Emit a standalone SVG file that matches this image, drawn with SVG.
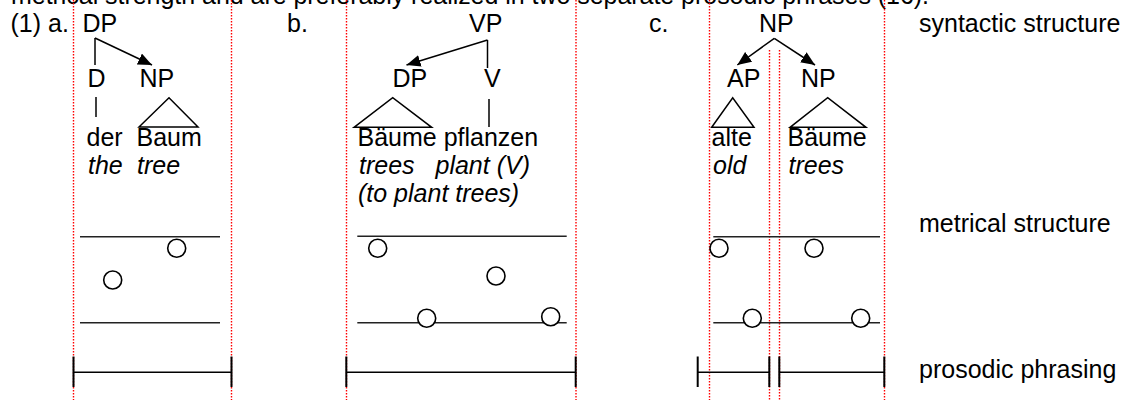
<svg xmlns="http://www.w3.org/2000/svg" width="1123" height="400" viewBox="0 0 1123 400">
<style>
text{font-family:"Liberation Sans",Arial,sans-serif;font-size:25px;fill:#000}
.it{font-style:italic}
.red{stroke:#f00;stroke-width:1.4;stroke-dasharray:1.5 1.5;fill:none}
.ln{stroke:#000;stroke-width:1.5;fill:none}
.ml{stroke:#222;stroke-width:1.5;fill:none}
.ph{stroke:#000;stroke-width:1.6;fill:none}
.bar{stroke:#000;stroke-width:2;fill:none}
.ci{stroke:#000;stroke-width:1.6;fill:#fff}
</style>
<defs>
<marker id="ah" viewBox="0 0 14 12" refX="14" refY="6" markerWidth="14" markerHeight="12" orient="auto" markerUnits="userSpaceOnUse"><path d="M0,0 L14,6 L0,12 z" fill="#000"/></marker>
</defs>
<rect width="1123" height="400" fill="#fff"/>
<text x="11" y="4" textLength="918">metrical strength and are preferably realized in two separate prosodic phrases (16).</text>
<g id="guides">
<line class="red" x1="73.5" y1="0" x2="73.5" y2="400"/>
<line class="red" x1="231.5" y1="0" x2="231.5" y2="400"/>
<line class="red" x1="346.5" y1="0" x2="346.5" y2="400"/>
<line class="red" x1="576" y1="0" x2="576" y2="400"/>
<line class="red" x1="709.5" y1="0" x2="709.5" y2="400"/>
<line class="red" x1="769.5" y1="50" x2="769.5" y2="400"/>
<line class="red" x1="779.5" y1="50" x2="779.5" y2="400"/>
<line class="red" x1="884.5" y1="0" x2="884.5" y2="400"/>
</g>
<g id="labels">
<text x="10.5" y="31.5">(1) a.</text>
<text x="287" y="31.5">b.</text>
<text x="649" y="31.5">c.</text>
<text x="919" y="31.5">syntactic structure</text>
<text x="919" y="232">metrical structure</text>
<text x="919" y="378">prosodic phrasing</text>
</g>
<g id="tree-a">
<g id="a-DP"><text x="82.5" y="31.5">DP</text></g>
<g id="a-D"><text x="87.5" y="87">D</text></g>
<g id="a-NP"><text x="139.5" y="87">NP</text></g>
<g id="a-der"><text x="86.5" y="146">der</text><text class="it" x="88" y="174">the</text></g>
<g id="a-Baum"><text x="136.5" y="146">Baum</text><text class="it" x="137" y="174">tree</text></g>
</g>
<g id="tree-b">
<g id="b-VP"><text x="469" y="31.5">VP</text></g>
<g id="b-DP"><text x="392.5" y="87">DP</text></g>
<g id="b-V"><text x="484" y="87">V</text></g>
<g id="b-words"><text x="357.5" y="146">Bäume pflanzen</text><text class="it" x="359" y="174">trees</text><text class="it" x="435.5" y="174">plant (V)</text><text class="it" x="358" y="202">(to plant trees)</text></g>
</g>
<g id="tree-c">
<g id="c-NP"><text x="759" y="31.5">NP</text></g>
<g id="c-AP"><text x="727" y="87">AP</text></g>
<g id="c-NP2"><text x="801" y="87">NP</text></g>
<g id="c-alte"><text x="711.5" y="146">alte</text><text class="it" x="713" y="174">old</text></g>
<g id="c-Baeume"><text x="787.5" y="146">Bäume</text><text class="it" x="788.5" y="174">trees</text></g>
</g>
<g id="connectors">
<line class="ln" x1="95" y1="38" x2="95" y2="65"/>
<line class="ln" x1="95" y1="38" x2="152" y2="65" marker-end="url(#ah)"/>
<line class="ln" x1="96" y1="97" x2="96" y2="117"/>
<path class="ln" d="M139,127 L169,97.7 L198,127 Z"/>
<line class="ln" x1="487.5" y1="40" x2="487.5" y2="68"/>
<line class="ln" x1="487.5" y1="40" x2="406.5" y2="65" marker-end="url(#ah)"/>
<line class="ln" x1="489" y1="99" x2="489" y2="127"/>
<path class="ln" d="M354,127.3 L392.7,97.7 L431.7,127.3 Z"/>
<line class="ln" x1="774.3" y1="38.3" x2="737.3" y2="65" marker-end="url(#ah)"/>
<line class="ln" x1="774.3" y1="38.3" x2="815" y2="65" marker-end="url(#ah)"/>
<path class="ln" d="M711.7,127.3 L732.7,97.7 L754,127.3 Z"/>
<path class="ln" d="M790,127.3 L827.7,97.7 L866,127.3 Z"/>
</g>
<g id="metrical">
<line class="ml" x1="80" y1="236.7" x2="220" y2="236.7"/>
<line class="ml" x1="80" y1="322.7" x2="220" y2="322.7"/>
<circle class="ci" cx="176.7" cy="248.3" r="9"/>
<circle class="ci" cx="112.7" cy="280" r="9"/>
<line class="ml" x1="357.3" y1="236.3" x2="566.7" y2="236.3"/>
<line class="ml" x1="357.3" y1="322.7" x2="566.7" y2="322.7"/>
<circle class="ci" cx="377.7" cy="248.3" r="9"/>
<circle class="ci" cx="496" cy="276" r="9"/>
<circle class="ci" cx="426.7" cy="318.3" r="9"/>
<circle class="ci" cx="550.7" cy="316.7" r="9"/>
<line class="ml" x1="713.3" y1="236.7" x2="880" y2="236.7"/>
<line class="ml" x1="713.3" y1="322.7" x2="880" y2="322.7"/>
<circle class="ci" cx="719" cy="248.3" r="9"/>
<circle class="ci" cx="814" cy="248.3" r="9"/>
<circle class="ci" cx="752.3" cy="318.3" r="9"/>
<circle class="ci" cx="860.7" cy="318.3" r="9"/>
</g>
<g id="phrasing">
<line class="ph" x1="73.5" y1="372.3" x2="231.5" y2="372.3"/>
<line class="bar" x1="73.5" y1="356.5" x2="73.5" y2="387"/>
<line class="bar" x1="231.5" y1="356.5" x2="231.5" y2="387"/>
<line class="ph" x1="346.3" y1="372.3" x2="575.7" y2="372.3"/>
<line class="bar" x1="346.3" y1="356.5" x2="346.3" y2="387"/>
<line class="bar" x1="575.7" y1="356.5" x2="575.7" y2="387"/>
<line class="ph" x1="697.7" y1="372.3" x2="769.3" y2="372.3"/>
<line class="bar" x1="697.7" y1="356.5" x2="697.7" y2="387"/>
<line class="bar" x1="769.3" y1="356.5" x2="769.3" y2="387"/>
<line class="ph" x1="779.3" y1="372.3" x2="884.3" y2="372.3"/>
<line class="bar" x1="779.3" y1="356.5" x2="779.3" y2="387"/>
<line class="bar" x1="884.3" y1="356.5" x2="884.3" y2="387"/>
</g>
</svg>
